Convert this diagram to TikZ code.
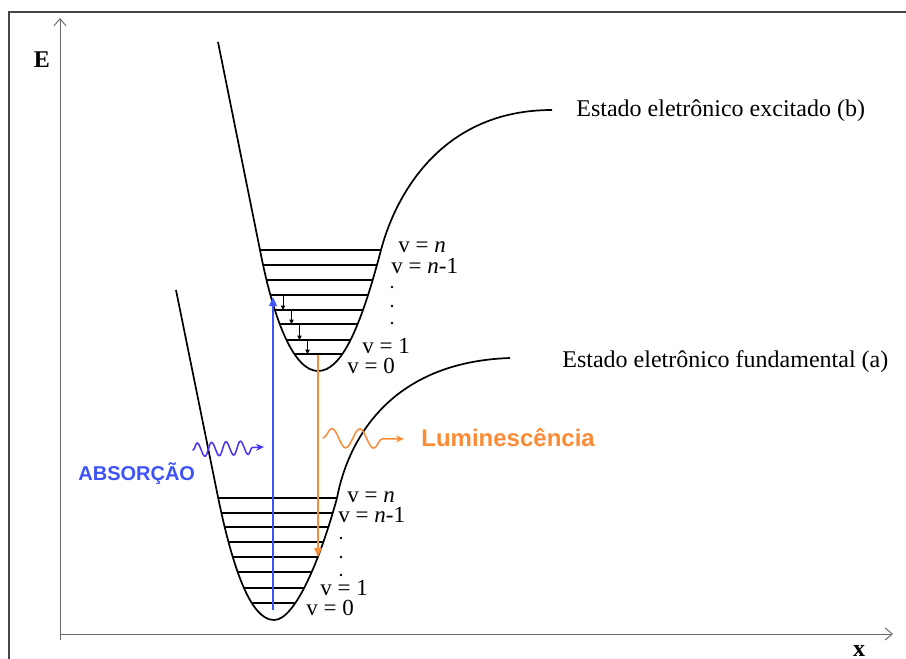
\documentclass[tikz,border=0pt]{standalone}
\usepackage{fontspec}
\setmainfont{Liberation Serif}
\setsansfont{Liberation Sans}
\usetikzlibrary{arrows.meta, decorations.pathmorphing}
\definecolor{absblue}{RGB}{62,82,250}
\definecolor{wavepurple}{RGB}{70,50,240}
\definecolor{lumorange}{RGB}{250,140,55}
\definecolor{axisgray}{RGB}{105,105,105}
\definecolor{framegray}{RGB}{70,70,70}
\tikzset{
  pes/.style={line width=0.85pt, black},
  level/.style={line width=0.6pt, black},
  vlabel/.style={anchor=base west, inner sep=0pt, text depth=0pt, font=\fontsize{11.5}{13}\selectfont},
  statelabel/.style={anchor=base west, inner sep=0pt, font=\fontsize{12}{14}\selectfont},
  axis/.style={line width=0.5pt, axisgray, -{Straight Barb[length=3.5pt, width=6pt]}},
  relax/.style={line width=0.4pt, -{Triangle[length=2.2pt, width=2.2pt]}},
  wave/.style={line width=0.75pt, decorate, line cap=round},
}
% potential curves (pixel coordinates)
\def\wellgnd{(176,290) -- (218,497) .. controls (232,565) and (250,620) .. (274,620)
  .. controls (295,620) and (320,560) .. (337,498)
  .. controls (348,440) and (390,362) .. (510,358)}
\def\wellexc{(218,42) -- (261,255) .. controls (275,325) and (295,371) .. (318,371)
  .. controls (341,371) and (360,330) .. (381,250)
  .. controls (395,197) and (440,110) .. (552,110)}
\begin{document}
\begin{tikzpicture}[x=0.5pt, y=-0.5pt]
\useasboundingbox (0,0) rectangle (906,659);
\fill[white] (0,0) rectangle (906,659);
% outer frame
\draw[framegray, line width=0.8pt] (9,665) -- (9,12) -- (912,12);

% ---- axes ----
\coordinate (origin) at (60,634);
\coordinate (etop) at (60,18);
\coordinate (xend) at (893,634);
\draw[axis] (60,640) -- (etop);
\draw[axis] (origin) -- (xend);
\node[font=\fontsize{12}{14}\selectfont\bfseries, inner sep=0pt] (elabel) at (42,60) {E};
\node[font=\fontsize{12}{14}\selectfont\bfseries, anchor=base, inner sep=0pt] (xlabel) at (859,656) {x};

% ---- ground state (a) ----
\draw[pes] \wellgnd;
\begin{scope}
  \clip \wellgnd -- cycle;
  \foreach \y in {498,513,527,542,557,572,588,603}
    \draw[level] (150,\y) -- (420,\y);
\end{scope}
\foreach \nm/\x/\y/\t in {gn/347/502/{v = \textit{n}}, gnm/338/522/{v = \textit{n}-1},
                          gone/320/595/{v = 1}, gzero/306/615/{v = 0}}{
  \node[vlabel] (\nm) at (\x,\y) {\t};
}
\foreach \y in {538,557,575}
  \fill (341,\y) circle[radius=1.3];

% ---- excited state (b) ----
\draw[pes] \wellexc;
\begin{scope}
  \clip \wellexc -- cycle;
  \foreach \y in {250,265,280,295,310,324,340,354}
    \draw[level] (200,\y) -- (450,\y);
\end{scope}
\foreach \nm/\x/\y/\t in {en/398/252/{v = \textit{n}}, enm/391/273/{v = \textit{n}-1},
                          eone/362/353/{v = 1}, ezero/347/373/{v = 0}}{
  \node[vlabel] (\nm) at (\x,\y) {\t};
}
\foreach \y in {287,306,323}
  \fill (392,\y) circle[radius=1.3];
% vibrational relaxation
\foreach \x/\ya/\yb in {283/295/310, 291.5/310/324, 299.5/324/340, 307.5/340/354}
  \draw[relax] (\x,\ya) -- (\x,\yb);

% state names
\node[statelabel] (excname) at (576,116) {Estado eletrônico excitado (b)};
\node[statelabel] (gndname) at (562,367) {Estado eletrônico fundamental (a)};

% ---- absorption ----
\coordinate (absbot) at (273,610);
\coordinate (abstop) at (273,297);
\draw[absblue, line width=0.8pt, -{Triangle[length=4.5pt, width=3.8pt]}] (absbot) -- (abstop);
\coordinate (absw1) at (193,450);
\coordinate (absw2) at (264,447);
\draw[wavepurple, wave, decoration={snake, segment length=7.2pt, amplitude=3.4pt, post length=5pt},
      -{Stealth[length=4pt, width=3.5pt]}] (absw1) -- (absw2);
\node[absblue, font=\fontsize{10}{12}\selectfont\sffamily\bfseries, anchor=base west, inner sep=0pt]
  (abslabel) at (78,480) {ABSORÇÃO};

% ---- luminescence ----
\coordinate (lumtop) at (318,355);
\coordinate (lumbot) at (318,557);
\draw[lumorange, line width=0.8pt, -{Triangle[length=4.5pt, width=3.8pt]}] (lumtop) -- (lumbot);
\coordinate (lumw1) at (323,438);
\coordinate (lumw2) at (404,439);
\draw[lumorange, wave, decoration={snake, segment length=14pt, amplitude=4.8pt, post length=6pt},
      -{Stealth[length=4pt, width=3.5pt]}] (lumw1) -- (lumw2);
\node[lumorange, font=\fontsize{12}{14}\selectfont\sffamily\bfseries, anchor=base west, inner sep=0pt]
  (lumlabel) at (421,446) {Luminescência};
\end{tikzpicture}
\end{document}
